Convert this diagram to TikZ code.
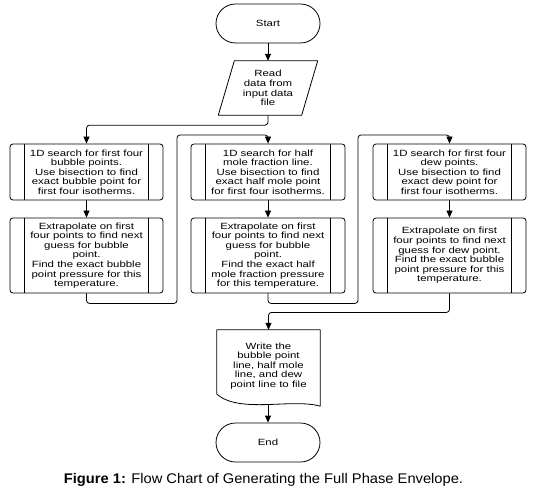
\documentclass[tikz,border=0pt]{standalone}
\usepackage{fontspec}
\setmainfont[FakeStretch=1.27]{Liberation Sans}
\newfontfamily\capfont[FakeStretch=1.05]{Liberation Sans}
\usetikzlibrary{calc,arrows.meta,shapes.misc}
\newcommand\ppsides[1]{%
  \draw[line width=0.8bp] ($(#1.north west)+(15,0)$) -- ($(#1.south west)+(15,0)$);
  \draw[line width=0.8bp] ($(#1.north east)+(-15,0)$) -- ($(#1.south east)+(-15,0)$);}
\begin{document}
\begin{tikzpicture}[x=1bp,y=-1bp,
  every node/.style={font=\fontsize{9bp}{9.6bp}\selectfont, align=center, inner sep=0pt},
  proc/.style={draw, rounded corners=3bp, minimum width=153bp, line width=0.8bp},
  term/.style={draw, rounded rectangle, minimum width=104bp, minimum height=39bp, line width=0.8bp},
  conn/.style={line width=0.8bp, rounded corners=3bp},
  arr/.style={conn, -{Triangle[width=6bp,length=7bp]}},
  shapeline/.style={line width=0.8bp, line join=round}
]
\useasboundingbox (0,0) rectangle (538,496);

% terminals
\node[term] (start) at (268,23.5) {Start};
\node[term] (end) at (268,442.5) {End};

% input parallelogram
\node[minimum width=99bp, minimum height=54bp] (read) at (268,88) {Read\\data from\\input data\\file};
\draw[shapeline] ($(read.north west)+(16,0)$) -- (read.north east) -- ($(read.south east)+(-16,0)$) -- (read.south west) -- cycle;

% column 1
\node[proc, minimum height=56bp] (b1a) at (86.5,172) {1D search for first four\\bubble points.\\Use bisection to find\\exact bubble point for\\first four isotherms.};
\node[proc, minimum height=75bp] (b1b) at (86.5,255.5) {Extrapolate on first\\four points to find next\\guess for bubble\\point.\\Find the exact bubble\\point pressure for this\\temperature.};
% column 2
\node[proc, minimum height=56bp, minimum width=154bp] (b2a) at (268,172) {1D search for half\\mole fraction line.\\Use bisection to find\\exact half mole point\\for first four isotherms.};
\node[proc, minimum height=75bp, minimum width=154bp] (b2b) at (268,255.5) {Extrapolate on first\\four points to find next\\guess for bubble\\point.\\Find the exact half\\mole fraction pressure\\for this temperature.};
% column 3
\node[proc, minimum height=56bp] (b3a) at (449.5,172) {1D search for first four\\dew points.\\Use bisection to find\\exact dew point for\\first four isotherms.};
\node[proc, minimum height=75bp] (b3b) at (449.5,255.5) {Extrapolate on first\\four points to find next\\guess for dew point.\\Find the exact bubble\\point pressure for this\\temperature.};
\ppsides{b1a}\ppsides{b1b}\ppsides{b2a}\ppsides{b2b}\ppsides{b3a}\ppsides{b3b}

% document
\node[minimum width=103bp, minimum height=72bp] (doc) at (268.5,366) {Write the\\bubble point\\line, half mole\\line, and dew\\point line to file};
\draw[shapeline] ($(doc.south west)+(0,-8)$) -- (doc.north west) -- (doc.north east) -- ($(doc.south east)+(0,4)$)
  .. controls (292,398) and (240,414) .. ($(doc.south west)+(0,-8)$);
\coordinate (docb) at (268,404.5);

% bend points
\coordinate (r1) at (177,135);
\coordinate (r2) at (358,135);

% connectors
\draw[arr] (start.south) -- (read.north);
\draw[arr] (read.south) -- ++(0,10) -| (b1a.north);
\draw[arr] (b1a.south) -- (b1b.north);
\draw[arr] (b1b.south) -- ++(0,10) -| (r1) -| (b2a.north);
\draw[arr] (b2a.south) -- (b2b.north);
\draw[arr] (b2b.south) -- ++(0,10) -| (r2) -| (b3a.north);
\draw[arr] (b3a.south) -- (b3b.north);
\draw[arr] (b3b.south) -- ++(0,19) -| (doc.north);
\draw[arr] (docb) -- (end.north);

% caption
\node[font=\capfont\fontsize{14bp}{16bp}\selectfont] (cap) at (263.5,480) {\textbf{Figure 1:} Flow Chart of Generating the Full Phase Envelope.};
\end{tikzpicture}
\end{document}
